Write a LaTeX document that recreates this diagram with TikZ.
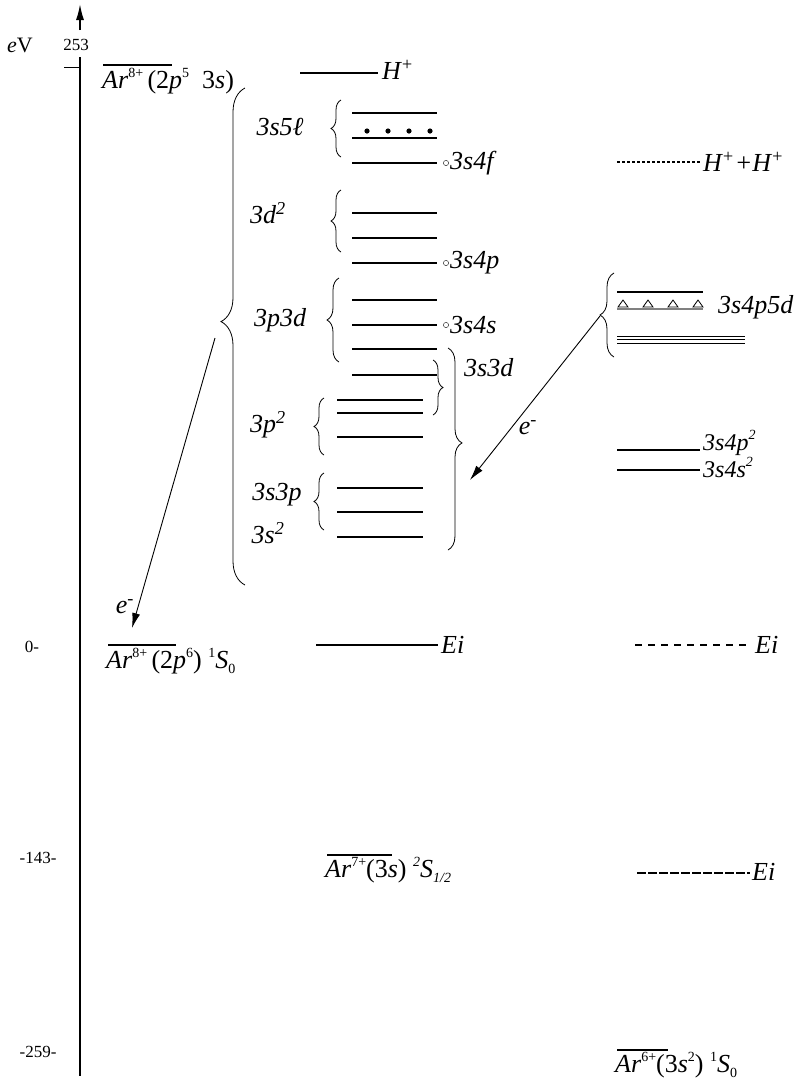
\documentclass[tikz,border=0pt]{standalone}
\usepackage{fontspec}
\setmainfont{Liberation Serif}
\usetikzlibrary{arrows.meta,decorations.pathreplacing,positioning}
\tikzset{
  levline/.style={line width=1.1pt},
  dashlev/.style={line width=1.1pt, dash pattern=on 7pt off 6pt},
  levlab/.style={font=\fontsize{26}{30}\selectfont\itshape, inner sep=0pt},
  statelab/.style={font=\fontsize{26}{30}\selectfont, inner sep=0pt, anchor=base west},
  axlab/.style={font=\fontsize{17}{19}\selectfont, inner sep=0pt},
  grpbrace/.style={decorate, decoration={brace, amplitude=#1}, line width=0.8pt},
  grpbrace/.default=10,
  earr/.style={-{Latex[length=15pt,width=8pt]}, line width=0.9pt},
}
\newcommand{\smup}[1]{\raisebox{0.42em}{\fontsize{14}{14}\selectfont #1}}
\newcommand{\smdn}[1]{\raisebox{-0.2em}{\fontsize{14}{14}\selectfont #1}}

\begin{document}
\begin{tikzpicture}[x=1pt,y=-1pt]
\useasboundingbox (0,0) rectangle (799,1085);

% energy axis
\coordinate (axtop) at (80,4);
\coordinate (axmid) at (80,30);
\coordinate (axgap) at (80,57);
\coordinate (axbot) at (80,1076);
\draw[line width=1.6pt, -{Latex[length=16pt,width=8pt]}] (axmid) -- (axtop);
\draw[line width=1.6pt] (axgap) -- (axbot);
\draw[line width=1pt] (64,67) -- (80,67);
\node[font=\fontsize{22}{24}\selectfont, inner sep=0pt] (ev) at (20,45) {\textit{e}V};
\node[axlab] (t253) at (76,45) {253};
\node[axlab] (t0) at (32,647) {0-};
\node[axlab] (t143) at (38,858) {-143-};
\node[axlab] (t259) at (38,1052) {-259-};

% Ar8+ column
\draw[levline] (103,65) -- (172,65);
\node[statelab] (ar8a) at (102,88) {\textit{Ar}\smup{8+}\,(2\textit{p}\smup{5}\ \ 3\textit{s})};
\draw[levline] (108,645) -- (176,645);
\node[statelab] (ar8b) at (106,668) {\textit{Ar}\smup{8+}\,(2\textit{p}\smup{6})\ \smup{1}\textit{S}\smdn{0}};
\draw[grpbrace=24, decoration={aspect=0.53}] (245,585) -- (245,88);
\coordinate (bigtip) at (215,338);
\coordinate (ar8bot) at (132,628);
\draw[earr] (bigtip) -- (ar8bot);
\node[levlab] (el) at (125,607) {e\textsuperscript{-}};

% Ar7+ column
\draw[levline] (300,73) -- (378,73);
\node[levlab, anchor=west] (hp) at (382,70) {H\textsuperscript{+}};

\node[levlab] (g3s5l) at (280,127) {3s5ℓ};
\draw[grpbrace] (341,157) -- (341,100);
\foreach \y in {113,138,163} \draw[levline] (352,\y) -- (437,\y);
\foreach \x in {367,388,409,430} \fill (\x,131) circle (2.6);
\draw (446,163) circle (2.6);
\node[levlab, anchor=west] (s4f) at (450,163) {3s4f};

\node[levlab] (g3d2) at (268,213) {3d\textsuperscript{2}};
\draw[grpbrace] (341,252) -- (341,190);
\foreach \y in {213,238,263} \draw[levline] (352,\y) -- (437,\y);
\draw (446,263) circle (2.6);
\node[levlab, anchor=west] (s4p) at (450,263) {3s4p};

\node[levlab] (g3p3d) at (280,320) {3p3d};
\draw[grpbrace=12] (339,362) -- (339,278);
\foreach \y in {300,325,349,375} \draw[levline] (352,\y) -- (437,\y);
\draw (446,325) circle (2.6);
\node[levlab, anchor=west] (s4s) at (450,325) {3s4s};
\draw[grpbrace] (433,360) -- (433,415);
\draw[grpbrace=14, decoration={aspect=0.47}] (448,348) -- (448,550);
\node[levlab, anchor=west] (g3s3d) at (464,368) {3s3d};

\node[levlab] (g3p2) at (268,425) {3p\textsuperscript{2}};
\draw[grpbrace] (324,455) -- (324,398);
\foreach \y in {400,413,437} \draw[levline] (337,\y) -- (423,\y);

\node[levlab] (g3s3p) at (277,495) {3s3p};
\node[levlab] (g3s2) at (268,533) {3s\textsuperscript{2}};
\draw[grpbrace] (324,530) -- (324,473);
\foreach \y in {488,512,537} \draw[levline] (337,\y) -- (423,\y);

\draw[levline] (316,645) -- (438,645);
\node[levlab, anchor=west] (eim) at (441,645) {Ei};

\draw[levline] (327,855) -- (392,855);
\node[statelab] (ar7) at (325,877) {\textit{Ar}\smup{7+}(3\textit{s})\ \smup{\textit{2}}\textit{S}\smdn{\textit{1/2}}};

% Ar6+ column
\draw[levline, densely dashed] (617,162) -- (700,162);
\node[levlab, anchor=west] (hh) at (703,162) {H\textsuperscript{+}+H\textsuperscript{+}};

\draw[grpbrace=14] (614,357) -- (614,273);
\draw[levline] (617,292) -- (703,292);
\draw[levline, gray] (617,309) -- (703,309);
\foreach \x in {623,648,673,698} \draw[line width=0.8pt] (\x-5,307) -- (\x+5,307) -- (\x,300) -- cycle;
\node[levlab, anchor=west] (g3s4p5d) at (718,307) {3s4p5d};
\foreach \y in {336,339.5,343} \draw[line width=0.8pt] (617,\y) -- (745,\y);
\coordinate (rtip) at (600,316);
\coordinate (s3dtip) at (470,480);
\draw[earr] (rtip) -- (s3dtip);
\node[levlab] (er) at (528,428) {e\textsuperscript{-}};

\draw[levline] (617,450) -- (700,450);
\node[levlab, font=\fontsize{24}{26}\selectfont\itshape, anchor=base west] (s4p2) at (703,450) {3s4p\smup{2}};
\draw[levline] (617,470) -- (700,470);
\node[levlab, font=\fontsize{24}{26}\selectfont\itshape, anchor=base west] (s4s2) at (703,477) {3s4s\smup{2}};

\draw[dashlev] (635,645) -- (752,645);
\node[levlab, anchor=west] (eir) at (755,645) {Ei};

\draw[levline, dash pattern=on 9pt off 2pt] (637,873) -- (750,873);
\node[levlab, anchor=west] (ei143) at (752,872) {Ei};

\draw[levline] (617,1050) -- (668,1050);
\node[statelab] (ar6) at (615,1072) {\textit{Ar}\smup{6+}(3\textit{s}\smup{2})\ \smup{1}\textit{S}\smdn{0}};
\end{tikzpicture}
\end{document}
